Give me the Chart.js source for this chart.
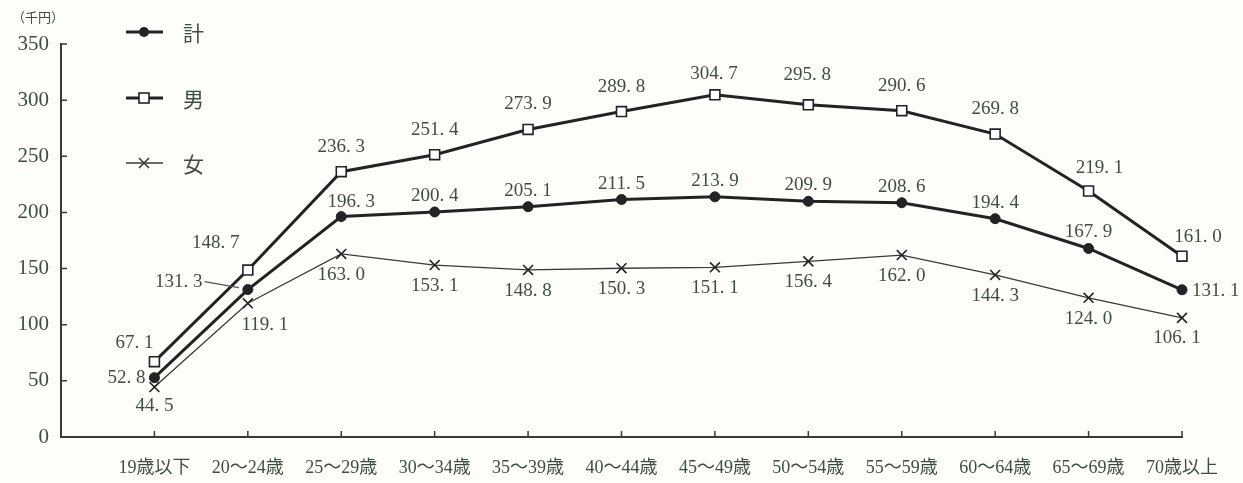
<!DOCTYPE html>
<html lang="ja">
<head>
<meta charset="utf-8">
<script src="https://cdn.jsdelivr.net/npm/chart.js@4"></script>
<style>
  html, body { margin: 0; padding: 0; background: #fdfdf9; }
  #wrap { position: relative; width: 1243px; height: 483px; }
</style>
</head>
<body>
<div id="wrap"><canvas id="c" width="1243" height="483"></canvas></div>
<script>
// 年齢階級
const categories = ['19歳以下', '20～24歳', '25～29歳', '30～34歳', '35～39歳', '40～44歳',
                    '45～49歳', '50～54歳', '55～59歳', '60～64歳', '65～69歳', '70歳以上'];
// 賃金（千円）
const totalValues = [52.8, 131.3, 196.3, 200.4, 205.1, 211.5, 213.9, 209.9, 208.6, 194.4, 167.9, 131.1];
const maleValues  = [67.1, 148.7, 236.3, 251.4, 273.9, 289.8, 304.7, 295.8, 290.6, 269.8, 219.1, 161.0];
const femaleValues = [44.5, 119.1, 163.0, 153.1, 148.8, 150.3, 151.1, 156.4, 162.0, 144.3, 124.0, 106.1];
const seriesNames = ['計', '男', '女'];
const yTicks = [0, 50, 100, 150, 200, 250, 300, 350];

const TEXT = '#3f4d3f';
const INK = '#232323';
const SERIF = "'Liberation Serif', 'Noto Sans CJK JP', serif";

const toPoints = arr => arr.map((v, i) => ({ x: i, y: v }));
const fmt = v => v.toFixed(1).replace('.', '. ');

// label offsets (dx, dy from the point), default per series plus a few exceptions
const labelLayout = [
  { dx: 0, dy: -16, special: { 0: [-30, 0, 'right'], 1: [-69, -8, 'leader'], 2: [10, -15], 11: [10, 1, 'left'] } },
  { dx: 0, dy: -25, special: { 0: [-20, -19], 1: [-32, -27], 10: [11, -23], 11: [16, -19], 6: [-1, -21], 7: [-1, -30] } },
  { dx: 0, dy: 21, special: { 0: [0, 19], 1: [17, 22], 11: [-5, 20] } }
];

const valueLabels = {
  id: 'valueLabels',
  afterDatasetsDraw(chart) {
    const ctx = chart.ctx;
    ctx.save();
    ctx.font = '19px ' + SERIF;
    ctx.fillStyle = TEXT;
    ctx.textBaseline = 'middle';
    chart.data.datasets.forEach((ds, di) => {
      const meta = chart.getDatasetMeta(di);
      const lay = labelLayout[di];
      meta.data.forEach((pt, i) => {
        const sp = lay.special[i];
        let dx = lay.dx, dy = lay.dy, mode = 'center';
        if (sp) { dx = sp[0]; dy = sp[1]; mode = sp[2] || 'center'; }
        const txt = fmt(ds.data[i].y);
        const x = pt.x + dx, y = pt.y + dy;
        if (mode === 'right') { ctx.textAlign = 'right'; ctx.fillText(txt, x + 21, y); }
        else if (mode === 'left') { ctx.textAlign = 'left'; ctx.fillText(txt, x, y); }
        else {
          ctx.textAlign = 'center';
          ctx.fillText(txt, x, y);
          if (mode === 'leader') {
            const w = ctx.measureText(txt).width;
            ctx.strokeStyle = '#555';
            ctx.lineWidth = 1.2;
            ctx.beginPath();
            ctx.moveTo(x + w / 2 + 2, y);
            ctx.lineTo(pt.x - 9, pt.y - 2);
            ctx.stroke();
          }
        }
      });
    });
    ctx.restore();
  }
};

// inward tick marks, unit caption and legend
const decorations = {
  id: 'decorations',
  afterDraw(chart) {
    const ctx = chart.ctx;
    const xs = chart.scales.x, ys = chart.scales.y;
    const area = chart.chartArea;
    ctx.save();
    ctx.strokeStyle = '#3a3a3a';
    ctx.lineWidth = 1.5;
    ctx.beginPath();
    categories.forEach((c, i) => {
      const px = xs.getPixelForValue(i);
      ctx.moveTo(px, area.bottom);
      ctx.lineTo(px, area.bottom - 6);
    });
    yTicks.forEach(v => {
      const py = ys.getPixelForValue(v);
      ctx.moveTo(area.left, py);
      ctx.lineTo(area.left + 6, py);
    });
    ctx.stroke();

    ctx.fillStyle = TEXT;
    ctx.font = "13px 'Noto Sans CJK JP', sans-serif";
    ctx.textAlign = 'left';
    ctx.textBaseline = 'middle';
    ctx.fillText('（千円）', 12, 17);

    // legend
    const rows = [32, 98, 163];
    chart.data.datasets.forEach((ds, di) => {
      const y = rows[di];
      ctx.strokeStyle = ds.borderColor;
      ctx.lineWidth = ds.borderWidth;
      ctx.beginPath();
      ctx.moveTo(126, y);
      ctx.lineTo(163, y);
      ctx.stroke();
      const cx = 144;
      if (ds.pointStyle === 'circle') {
        ctx.fillStyle = ds.pointBackgroundColor;
        ctx.beginPath();
        ctx.arc(cx, y, 5, 0, Math.PI * 2);
        ctx.fill();
      } else if (ds.pointStyle === 'rect') {
        ctx.fillStyle = ds.pointBackgroundColor;
        ctx.lineWidth = 1.6;
        ctx.fillRect(cx - 5, y - 5, 10, 10);
        ctx.strokeRect(cx - 5, y - 5, 10, 10);
      } else {
        ctx.lineWidth = 1.6;
        ctx.beginPath();
        ctx.moveTo(cx - 5, y - 5); ctx.lineTo(cx + 5, y + 5);
        ctx.moveTo(cx + 5, y - 5); ctx.lineTo(cx - 5, y + 5);
        ctx.stroke();
      }
      ctx.fillStyle = TEXT;
      ctx.font = "21px 'Noto Sans CJK JP', serif";
      ctx.textAlign = 'left';
      ctx.fillText(seriesNames[di], 183, y + 1);
    });
    ctx.restore();
  }
};

const bg = {
  id: 'bg',
  beforeDraw(chart) {
    const ctx = chart.ctx;
    ctx.save();
    ctx.fillStyle = '#fdfdf9';
    ctx.fillRect(0, 0, chart.width, chart.height);
    ctx.restore();
  }
};

new Chart(document.getElementById('c'), {
  type: 'line',
  data: {
    datasets: [
      {
        label: seriesNames[0], data: toPoints(totalValues), clip: false,
        borderColor: INK, borderWidth: 3,
        pointStyle: 'circle', pointRadius: 5, pointBackgroundColor: INK, pointBorderColor: INK, pointBorderWidth: 1
      },
      {
        label: seriesNames[1], data: toPoints(maleValues), clip: false,
        borderColor: INK, borderWidth: 3,
        pointStyle: 'rect', pointRadius: 7, pointBackgroundColor: '#ffffff', pointBorderColor: INK, pointBorderWidth: 1.6
      },
      {
        label: seriesNames[2], data: toPoints(femaleValues), clip: false,
        borderColor: '#3a3a3a', borderWidth: 1.3,
        pointStyle: 'crossRot', pointRadius: 7, pointBorderColor: INK, pointBackgroundColor: INK, pointBorderWidth: 1.6
      }
    ]
  },
  options: {
    responsive: false,
    animation: false,
    devicePixelRatio: 1,
    layout: { padding: { left: 0, right: 61, top: 44, bottom: 0 } },
    plugins: { legend: { display: false }, tooltip: { enabled: false } },
    scales: {
      x: {
        type: 'linear', min: -1, max: 11,
        afterFit(s) { s.height = 46; },
        afterBuildTicks(s) { s.ticks = categories.map((c, i) => ({ value: i })); },
        grid: { display: false, drawTicks: false },
        border: { display: true, color: '#3a3a3a', width: 2 },
        ticks: {
          padding: 20,
          color: TEXT,
          font: { family: SERIF, size: 18 },
          maxRotation: 0, autoSkip: false,
          callback: v => categories[v] ?? ''
        }
      },
      y: {
        min: 0, max: 350,
        afterFit(s) { s.width = 61; },
        afterBuildTicks(s) { s.ticks = yTicks.map(v => ({ value: v })); },
        grid: { display: false, drawTicks: false },
        border: { display: true, color: '#3a3a3a', width: 2 },
        ticks: {
          padding: 12,
          color: TEXT,
          font: { family: SERIF, size: 21 }
        }
      }
    }
  },
  plugins: [bg, valueLabels, decorations]
});
</script>
</body>
</html>
